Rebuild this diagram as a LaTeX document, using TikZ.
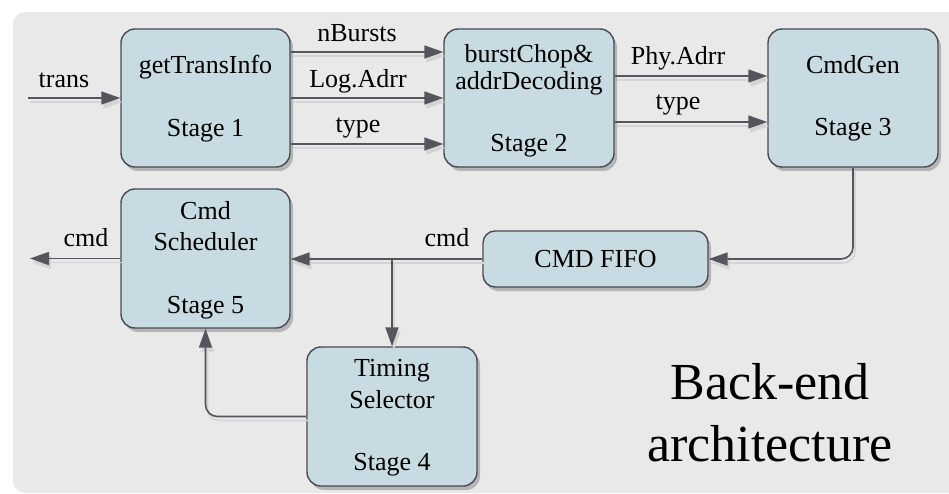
\documentclass[tikz,border=0pt]{standalone}
\usepackage{fontspec}
\setmainfont{Liberation Serif}
\usetikzlibrary{arrows.meta,shadows,calc}
\definecolor{bgc}{HTML}{E9E9E9}
\definecolor{boxfill}{HTML}{C8DAE2}
\definecolor{wirec}{HTML}{55555E}
\definecolor{edgec}{HTML}{4A4A50}
\begin{document}
\begin{tikzpicture}[x=1pt,y=-1pt,
  blk/.style={draw=edgec, line width=1.4pt, fill=boxfill, rounded corners=14pt, inner sep=0pt,
    drop shadow={shadow xshift=3pt, shadow yshift=-4pt, fill=black, opacity=0.22}},
  txt/.style={anchor=base, inner sep=0pt, font=\fontsize{26}{31}\selectfont},
  bigtxt/.style={anchor=base, inner sep=0pt, font=\fontsize{52}{62}\selectfont},
  wire/.style={draw=wirec, line width=1.6pt, -{Triangle[length=19pt,width=13pt]},
    preaction={draw=black!17, line width=1.6pt, -{Triangle[length=19pt,width=13pt]}, transform canvas={shift={(2pt,-4pt)}}}}
]
\useasboundingbox (0,0) rectangle (949,494);
\fill[white] (0,0) rectangle (949,494);
\fill[bgc, rounded corners=12pt] (13,12) rectangle (980,493);

% boxes
\node[blk, minimum width=169pt, minimum height=138pt] (s1) at (205.5,98) {};
\node[blk, minimum width=170pt, minimum height=138pt] (s2) at (529,98) {};
\node[blk, minimum width=170pt, minimum height=138pt] (s3) at (853,98) {};
\node[blk, minimum width=169pt, minimum height=139pt] (s5) at (205.5,258.5) {};
\node[blk, minimum width=170pt, minimum height=139pt] (s4) at (392,416.5) {};
\node[blk, minimum width=225pt, minimum height=56pt, rounded corners=12pt] (fifo) at (595.5,259) {};

% box texts
\node[txt] (t1a) at (205.5,74) {getTransInfo};
\node[txt] (t1b) at (205.5,137) {Stage 1};
\node[txt] (t2a) at (529,63) {burstChop\&};
\node[txt] (t2b) at (529,90) {addrDecoding};
\node[txt] (t2c) at (529,152) {Stage 2};
\node[txt] (t3a) at (853,74) {CmdGen};
\node[txt] (t3b) at (853,136) {Stage 3};
\node[txt] (t5a) at (205.5,220) {Cmd};
\node[txt] (t5b) at (205.5,250) {Scheduler};
\node[txt] (t5c) at (205.5,313) {Stage 5};
\node[txt] (t4a) at (392,376) {Timing};
\node[txt] (t4b) at (392,408) {Selector};
\node[txt] (t4c) at (392,470) {Stage 4};
\node[txt] (tf) at (595.5,267) {CMD FIFO};

% helper coordinates
\coordinate (tin) at (28,98);
\coordinate (ya) at (0,52);
\coordinate (yb) at (0,98);
\coordinate (yc) at (0,144);
\coordinate (yd) at (0,76);
\coordinate (ye) at (0,122);
\coordinate (cout) at (30,258.5);
\coordinate (br) at (s4.north |- fifo.west);

% connectors
\draw[wire] (tin) -- (s1.west);
\draw[wire] (s1.east |- ya) -- (s2.west |- ya);
\draw[wire] (s1.east |- yb) -- (s2.west |- yb);
\draw[wire] (s1.east |- yc) -- (s2.west |- yc);
\draw[wire] (s2.east |- yd) -- (s3.west |- yd);
\draw[wire] (s2.east |- ye) -- (s3.west |- ye);
\draw[wire, rounded corners=12pt] (s3.south) |- (fifo.east);
\draw[wire] (fifo.west) -- (s5.east |- fifo.west);
\draw[wire] (br) -- (s4.north);
\draw[wire] (s5.west) -- (cout);
\draw[wire, rounded corners=12pt] (s4.west) -| (s5.south);

% connector labels
\node[txt] (ltrans) at (64,88) {trans};
\node[txt] (lnb) at (357,42) {nBursts};
\node[txt] (lla) at (358,88) {Log.Adrr};
\node[txt] (lty1) at (358,133) {type};
\node[txt] (lpa) at (678,65) {Phy.Adrr};
\node[txt] (lty2) at (678,110) {type};
\node[txt] (lcmd1) at (86,247) {cmd};
\node[txt] (lcmd2) at (447,247) {cmd};

% title
\node[bigtxt] (title1) at (770,399) {Back-end};
\node[bigtxt] (title2) at (770,461) {architecture};
\end{tikzpicture}
\end{document}
